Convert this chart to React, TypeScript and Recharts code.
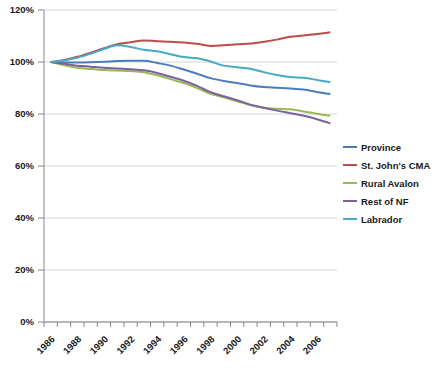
import React from "react";
import { LineChart, Line, XAxis, YAxis, CartesianGrid, Legend, Text } from "recharts";

const years = [1986, 1987, 1988, 1989, 1990, 1991, 1992, 1993, 1994, 1995, 1996, 1997, 1998, 1999, 2000, 2001, 2002, 2003, 2004, 2005, 2006, 2007];
const province = [100, 99.8, 99.8, 99.9, 100.1, 100.4, 100.5, 100.5, 99.6, 98.6, 97.1, 95.5, 93.8, 92.7, 91.9, 91.0, 90.4, 90.1, 89.8, 89.4, 88.5, 87.7];
const stJohns = [100, 100.8, 102.0, 103.6, 105.3, 106.8, 107.6, 108.3, 108.0, 107.8, 107.5, 107.0, 106.2, 106.4, 106.8, 107.1, 107.8, 108.6, 109.7, 110.2, 110.8, 111.4];
const ruralAvalon = [100, 98.8, 97.8, 97.3, 96.9, 96.7, 96.5, 96.1, 94.9, 93.4, 91.9, 90.0, 87.8, 86.4, 84.9, 83.4, 82.4, 82.0, 81.8, 81.0, 80.1, 79.3];
const restNF = [100, 99.3, 98.6, 98.2, 97.8, 97.5, 97.2, 96.8, 95.8, 94.3, 92.8, 90.8, 88.4, 86.8, 85.3, 83.6, 82.4, 81.3, 80.3, 79.3, 78.0, 76.4];
const labrador = [100, 100.6, 101.6, 103.2, 105.0, 106.4, 105.8, 104.7, 104.1, 103.0, 101.9, 101.4, 100.2, 98.6, 98.0, 97.4, 96.1, 95.0, 94.2, 93.9, 93.1, 92.2];

const yTicks = [0, 20, 40, 60, 80, 100, 120];
const xLabelTicks = [1986, 1988, 1990, 1992, 1994, 1996, 1998, 2000, 2002, 2004, 2006];
const xMarkTicks = [...years.map((y) => y - 0.5), years[years.length - 1] + 0.5];
const xAllTicks = [...xMarkTicks, ...xLabelTicks].sort((a, b) => a - b);

const series = [
  { key: "province", name: "Province", color: "#4A7EBB", values: province },
  { key: "stJohns", name: "St. John's CMA", color: "#BE4B48", values: stJohns },
  { key: "ruralAvalon", name: "Rural Avalon", color: "#98B954", values: ruralAvalon },
  { key: "restNF", name: "Rest of NF", color: "#7D60A0", values: restNF },
  { key: "labrador", name: "Labrador", color: "#46AAC5", values: labrador },
];

const data = years.map((year, i) => {
  const row: Record<string, number> = { year };
  series.forEach((s) => {
    row[s.key] = s.values[i];
  });
  return row;
});

const FONT = "'Liberation Sans', Arial, sans-serif";
const TICK_SIZE = 5;

const XTick = (props: any) => {
  const { x, y, payload } = props;
  const v = payload.value as number;
  if (!Number.isInteger(v)) {
    return <line x1={x} y1={y - TICK_SIZE} x2={x} y2={y} stroke="#868686" strokeWidth={1} />;
  }
  return (
    <Text
      x={x}
      y={y + 8}
      angle={-45}
      textAnchor="end"
      verticalAnchor="start"
      fontFamily={FONT}
      fontSize={9.5}
      fontWeight="bold"
      fill="#1a1a1a"
    >
      {String(v)}
    </Text>
  );
};

const LegendContent = () => (
  <div style={{ fontFamily: FONT, fontSize: 9.5, fontWeight: "bold", color: "#1a1a1a" }}>
    {series.map((s) => (
      <div key={s.key} style={{ display: "flex", alignItems: "center", height: 18 }}>
        <svg width={16} height={10} style={{ marginRight: 2 }}>
          <line x1={0} y1={5} x2={14} y2={5} stroke={s.color} strokeWidth={2} />
        </svg>
        <span>{s.name}</span>
      </div>
    ))}
  </div>
);

export default function App() {
  return (
    <div style={{ position: "absolute", left: 0, top: 0, width: 437, height: 368, background: "#fff" }}>
      <LineChart width={437} height={368} data={data} margin={{ top: 10, right: 10, bottom: 0, left: 0 }}>
        <CartesianGrid horizontal vertical={false} stroke="#d4d4d4" strokeWidth={1} />
        <XAxis
          dataKey="year"
          type="number"
          domain={[1985.5, 2007.5]}
          ticks={xAllTicks}
          interval={0}
          height={46}
          tickSize={TICK_SIZE}
          tickMargin={0}
          tickLine={false}
          axisLine={{ stroke: "#868686" }}
          tick={<XTick />}
          allowDataOverflow
        />
        <YAxis
          type="number"
          domain={[0, 120]}
          ticks={yTicks}
          interval={0}
          width={44}
          tickSize={6}
          tickMargin={4}
          tickFormatter={(v: number) => `${v}%`}
          tickLine={{ stroke: "#868686" }}
          axisLine={{ stroke: "#868686" }}
          tick={{ fontFamily: FONT, fontSize: 9.5, fontWeight: "bold", fill: "#1a1a1a" }}
        />
        <Legend
          layout="vertical"
          align="right"
          verticalAlign="middle"
          content={() => <LegendContent />}
          wrapperStyle={{ position: "absolute", left: 343, top: 138, width: 90 }}
        />
        {series.map((s) => (
          <Line
            key={s.key}
            type="monotone"
            dataKey={s.key}
            name={s.name}
            stroke={s.color}
            strokeWidth={2}
            dot={false}
            isAnimationActive={false}
          />
        ))}
      </LineChart>
    </div>
  );
}
